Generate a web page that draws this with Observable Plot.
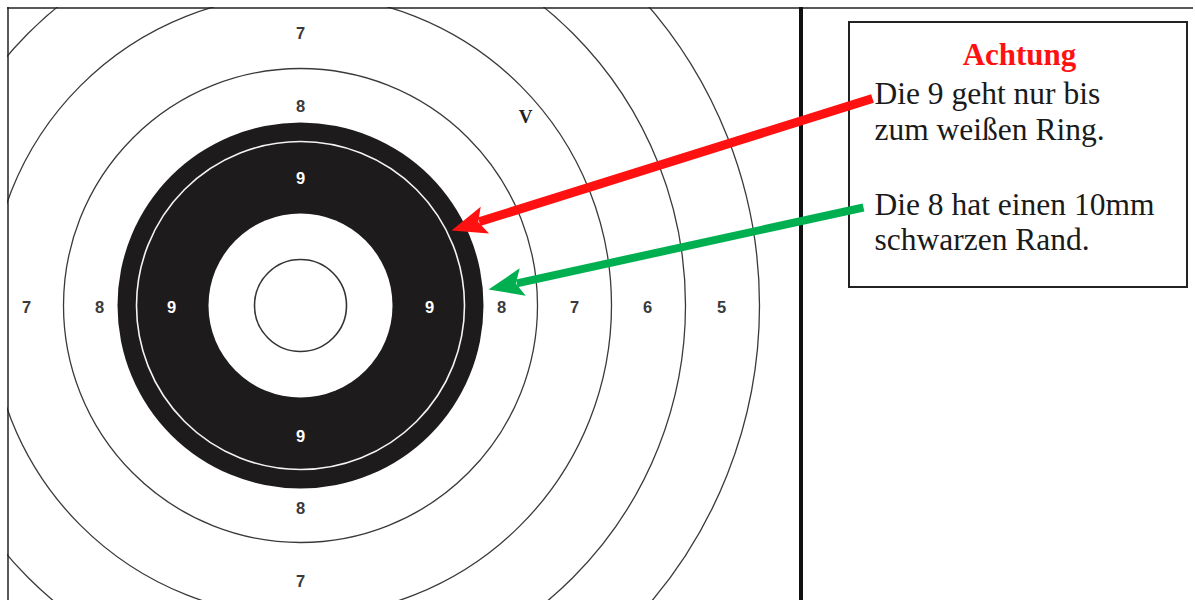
<!DOCTYPE html>
<html>
<head>
<meta charset="utf-8">
<script src="https://cdn.jsdelivr.net/npm/d3@7"></script>
<script src="https://cdn.jsdelivr.net/npm/@observablehq/plot@0.6"></script>
<style>
  html, body { margin: 0; padding: 0; background: #fff; }
  #chart svg { display: block; }
</style>
</head>
<body>
<div id="chart"></div>
<script>
// ---- Data ----
// target geometry (radii in target units, 1 unit = 1 px)
const tenRadius = 46;          // inner ring of the 10 (white centre)
const whiteCentreRadius = 92;  // white centre disk
const nineLimitRadius = 164;   // thin white ring inside the black
const blackRadius = 183;       // outer edge of black (10 mm black border of the 8)
const outerRings = [237, 311, 385, 459];

// score labels
const labelScores = [9, 9, 9, 9, 8, 8, 8, 8, 7, 7, 7, 7, 6, 5];
const labelAngles = [0, 90, 180, 270, 0, 90, 180, 270, 0, 90, 180, 270, 0, 0];
const labelRadiusByScore = {9: 129, 8: 201, 7: 274, 6: 347, 5: 421};

// annotation
const noteTitle = "Achtung";
const noteLines = ["Die 9 geht nur bis", "zum weißen Ring.", "Die 8 hat einen 10mm", "schwarzen Rand."];
const arrowColors = ["#ff1111", "#00b050"];

// ---- Layout helpers (pixel -> target coordinates, centre at px (300,305)) ----
const CX = 300, CY = 305;
const X = px => px - CX;
const Y = py => CY - py;

const labels = labelScores.map((s, i) => {
  const a = labelAngles[i] * Math.PI / 180, r = labelRadiusByScore[s];
  return {score: s, x: r * Math.cos(a), y: r * Math.sin(a)};
});

// arrows: start (near text) -> tip (on target)
const arrowDefs = [
  {color: arrowColors[0], x1: X(872), y1: Y(98),  x2: X(451), y2: Y(230), w: 9},
  {color: arrowColors[1], x1: X(863), y1: Y(207), x2: X(488), y2: Y(289), w: 8}
];
const headLen = 31, headWid = 28;
const shafts = [], heads = [];
arrowDefs.forEach((a, k) => {
  const dx = a.x2 - a.x1, dy = a.y2 - a.y1, L = Math.hypot(dx, dy);
  const ux = dx / L, uy = dy / L, nx = -uy, ny = ux;
  const bx = a.x2 - ux * headLen, by = a.y2 - uy * headLen;
  shafts.push({color: a.color, w: a.w, x1: a.x1, y1: a.y1, x2: bx + ux * 2, y2: by + uy * 2});
  heads.push({k, color: a.color, x: a.x2, y: a.y2});
  heads.push({k, color: a.color, x: bx - ux * 4 + nx * headWid / 2, y: by - uy * 4 + ny * headWid / 2});
  heads.push({k, color: a.color, x: bx + ux * 3, y: by + uy * 3});
  heads.push({k, color: a.color, x: bx - ux * 4 - nx * headWid / 2, y: by - uy * 4 - ny * headWid / 2});
});

const serif = "'Liberation Serif', 'Times New Roman', serif";
const sans = "'Liberation Sans', Arial, sans-serif";
const noteSize = 31.5;

const chart = Plot.plot({
  width: 1195,
  height: 600,
  margin: 0,
  x: {domain: [X(0), X(1195)], axis: null},
  y: {domain: [Y(600), Y(0)], axis: null},
  r: {type: "identity"},
  style: {background: "#fff"},
  marks: [
    // outer scoring rings
    Plot.dot(outerRings, {x: 0, y: 0, r: d => d, stroke: "#3a3a3a", strokeWidth: 1.3, fill: "none"}),
    // black area
    Plot.dot([blackRadius], {x: 0, y: 0, r: d => d, fill: "#1d1b1c", stroke: "none"}),
    // thin white ring (limit of the 9)
    Plot.dot([nineLimitRadius], {x: 0, y: 0, r: d => d, stroke: "#f4f4f4", strokeWidth: 1.6, fill: "none"}),
    // white centre
    Plot.dot([whiteCentreRadius], {x: 0, y: 0, r: d => d, fill: "#fff", stroke: "none"}),
    // ten ring
    Plot.dot([tenRadius], {x: 0, y: 0, r: d => d, stroke: "#333", strokeWidth: 1.6, fill: "none"}),
    // score numbers
    Plot.text(labels, {x: "x", y: "y", text: d => String(d.score), dy: 2,
      fill: d => d.score === 9 ? "#fff" : "#3a3a3a",
      fontFamily: sans, fontWeight: "bold", fontSize: 16.5}),
    Plot.text(["V"], {x: X(525), y: Y(116), text: d => d, fontFamily: serif, fontWeight: "bold", fontSize: 19, fill: "#222"}),
    // white margins / right panel (hide ring overflow)
    Plot.rect([0], {x1: X(801), x2: X(1195), y1: Y(0), y2: Y(600), fill: "#fff"}),
    Plot.rect([0], {x1: X(0), x2: X(7), y1: Y(0), y2: Y(600), fill: "#fff"}),
    Plot.rect([0], {x1: X(0), x2: X(1195), y1: Y(0), y2: Y(7), fill: "#fff"}),
    // border lines
    Plot.ruleY([Y(7.5)], {x1: X(7), x2: X(1193), stroke: "#222", strokeWidth: 1.5}),
    Plot.ruleX([X(7.5)], {y1: Y(7), y2: Y(600), stroke: "#222", strokeWidth: 1.5}),
    Plot.ruleX([X(800.5)], {y1: Y(7), y2: Y(600), stroke: "#111", strokeWidth: 4}),
    // annotation box
    Plot.rect([0], {x1: X(849), x2: X(1187), y1: Y(22), y2: Y(287), fill: "#fff", stroke: "#222", strokeWidth: 2}),
    Plot.text([noteTitle], {x: X(1019), y: Y(64 - 0.32 * 31), text: d => d, fontFamily: serif, fontWeight: "bold", fontSize: 31, fill: "#ff1111"}),
    Plot.text(noteLines, {
      x: X(874),
      y: (d, i) => Y([103, 139, 214, 249][i] - 0.32 * noteSize),
      text: d => d, textAnchor: "start", fontFamily: serif, fontSize: noteSize, fill: "#1a1a1a"
    }),
    // arrows
    Plot.link(shafts, {x1: "x1", y1: "y1", x2: "x2", y2: "y2", stroke: "color", strokeWidth: "w", strokeLinecap: "butt"}),
    Plot.line(heads, {x: "x", y: "y", z: "k", fill: "color", stroke: "none", curve: "linear-closed"})
  ]
});
document.getElementById("chart").append(chart);
</script>
</body>
</html>
